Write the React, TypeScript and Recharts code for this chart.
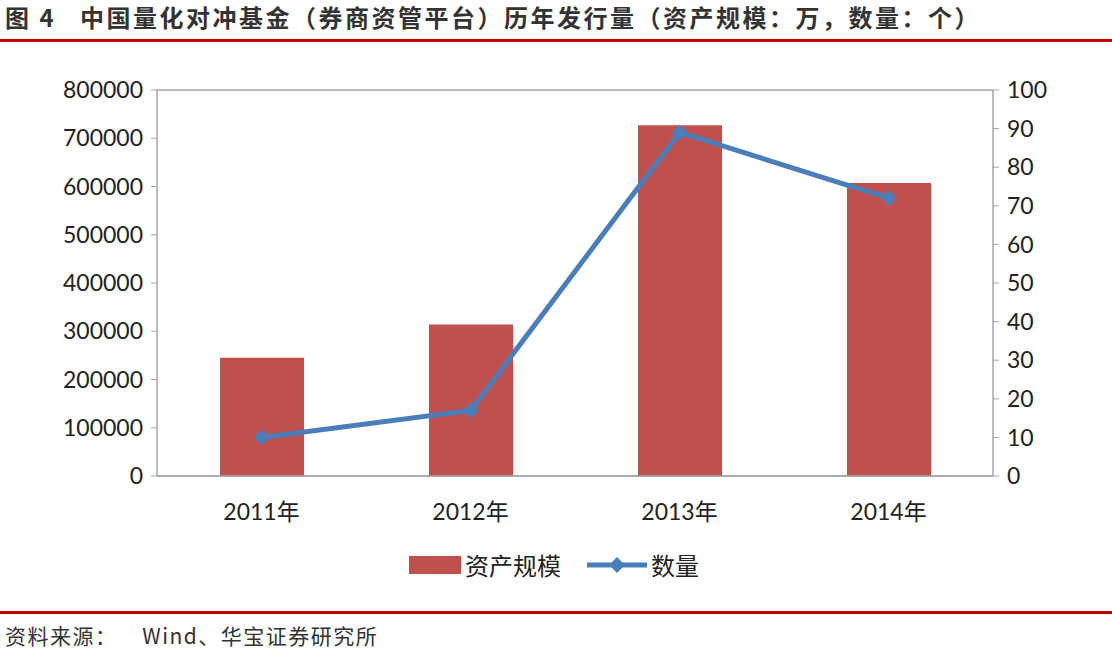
import { Bar, CartesianGrid, ComposedChart, Legend, Line, XAxis, YAxis } from 'recharts'

const years = ['2011年', '2012年', '2013年', '2014年']
const assetScale = [245000, 314000, 727000, 607000]
const fundCount = [10, 17, 89, 72]
const leftTicks = [0, 100000, 200000, 300000, 400000, 500000, 600000, 700000, 800000]
const rightTicks = [0, 10, 20, 30, 40, 50, 60, 70, 80, 90, 100]

const data = years.map((year, i) => ({
  year,
  asset: assetScale[i],
  count: fundCount[i],
}))

const font = "Lato, 'Noto Sans CJK SC', sans-serif"
const cjk = "'Noto Sans CJK SC', sans-serif"

const Diamond = (props: any) => {
  const { cx, cy } = props
  if (cx == null || cy == null) return null
  const r = 8
  return (
    <path
      d={`M${cx},${cy - r}L${cx + r},${cy}L${cx},${cy + r}L${cx - r},${cy}Z`}
      fill="#4A7EBB"
    />
  )
}

const LegendContent = () => (
  <div
    style={{
      display: 'flex',
      justifyContent: 'center',
      alignItems: 'center',
      fontFamily: cjk,
      fontSize: 24,
      color: '#222',
      paddingRight: 4,
      position: 'relative',
      top: -3,
    }}
  >
    <div style={{ width: 52, height: 18, background: '#C0504D', marginRight: 4 }} />
    <span>资产规模</span>
    <svg width={60} height={20} style={{ marginLeft: 26, marginRight: 4 }}>
      <line x1={0} y1={10} x2={60} y2={10} stroke="#4A7EBB" strokeWidth={5} />
      <path d="M30,2L38,10L30,18L22,10Z" fill="#4A7EBB" />
    </svg>
    <span>数量</span>
  </div>
)

export default function App() {
  return (
    <div
      style={{
        position: 'absolute',
        left: 0,
        top: 0,
        width: 1112,
        height: 652,
        background: '#fff',
        overflow: 'hidden',
      }}
    >
      <div
        style={{
          position: 'absolute',
          left: 5,
          top: 1,
          fontFamily: cjk,
          fontSize: 24,
          fontWeight: 600,
          letterSpacing: 2.5,
          color: '#333',
          whiteSpace: 'nowrap',
          lineHeight: '32px',
        }}
      >
        图 4&nbsp;&nbsp;&nbsp;中国量化对冲基金（券商资管平台）历年发行量（资产规模：万，数量：个）
      </div>
      <div
        style={{
          position: 'absolute',
          left: 0,
          top: 39,
          width: 1112,
          height: 3,
          background: '#C00000',
        }}
      />
      <div style={{ position: 'absolute', left: 0, top: 0 }}>
        <ComposedChart
          width={1112}
          height={652}
          data={data}
          margin={{ top: 90, right: 0, left: 0, bottom: 45 }}
        >
          <CartesianGrid vertical={false} stroke="#A6A6A6" strokeWidth={1.5} />
          <XAxis
            dataKey="year"
            height={50}
            tick={{ fill: '#222', fontSize: 23, fontFamily: font }}
            tickLine={false}
            axisLine={{ stroke: '#A6A6A6', strokeWidth: 1.5 }}
            tickMargin={22}
          />
          <YAxis
            yAxisId="left"
            width={157}
            domain={[0, 800000]}
            ticks={leftTicks}
            interval={0}
            tick={{ fill: '#222', fontSize: 23, fontFamily: font }}
            tickLine={{ stroke: '#A6A6A6' }}
            tickSize={6}
            tickMargin={8}
            axisLine={{ stroke: '#A6A6A6', strokeWidth: 1.5 }}
          />
          <YAxis
            yAxisId="right"
            orientation="right"
            width={119}
            domain={[0, 100]}
            ticks={rightTicks}
            interval={0}
            tick={{ fill: '#222', fontSize: 23, fontFamily: font, textAnchor: 'start' }}
            tickLine={{ stroke: '#A6A6A6' }}
            tickSize={6}
            tickMargin={8}
            axisLine={{ stroke: '#A6A6A6', strokeWidth: 1.5 }}
          />
          <Legend verticalAlign="bottom" height={57} content={<LegendContent />} wrapperStyle={{ paddingTop: 24 }} />
          <Bar
            yAxisId="left"
            dataKey="asset"
            name="资产规模"
            fill="#C0504D"
            barSize={84}
            isAnimationActive={false}
          />
          <Line
            yAxisId="right"
            dataKey="count"
            name="数量"
            type="linear"
            stroke="#4A7EBB"
            strokeWidth={5}
            dot={<Diamond />}
            activeDot={false}
            isAnimationActive={false}
          />
        </ComposedChart>
      </div>
      <div
        style={{
          position: 'absolute',
          left: 0,
          top: 611,
          width: 1112,
          height: 3,
          background: '#C00000',
        }}
      />
      <div
        style={{
          position: 'absolute',
          left: 5,
          top: 620,
          fontFamily: cjk,
          fontSize: 21,
          letterSpacing: 1.5,
          color: '#333',
          whiteSpace: 'nowrap',
          lineHeight: '30px',
        }}
      >
        资料来源：&nbsp;&nbsp;&nbsp;&nbsp;Wind、华宝证券研究所
      </div>
    </div>
  )
}
